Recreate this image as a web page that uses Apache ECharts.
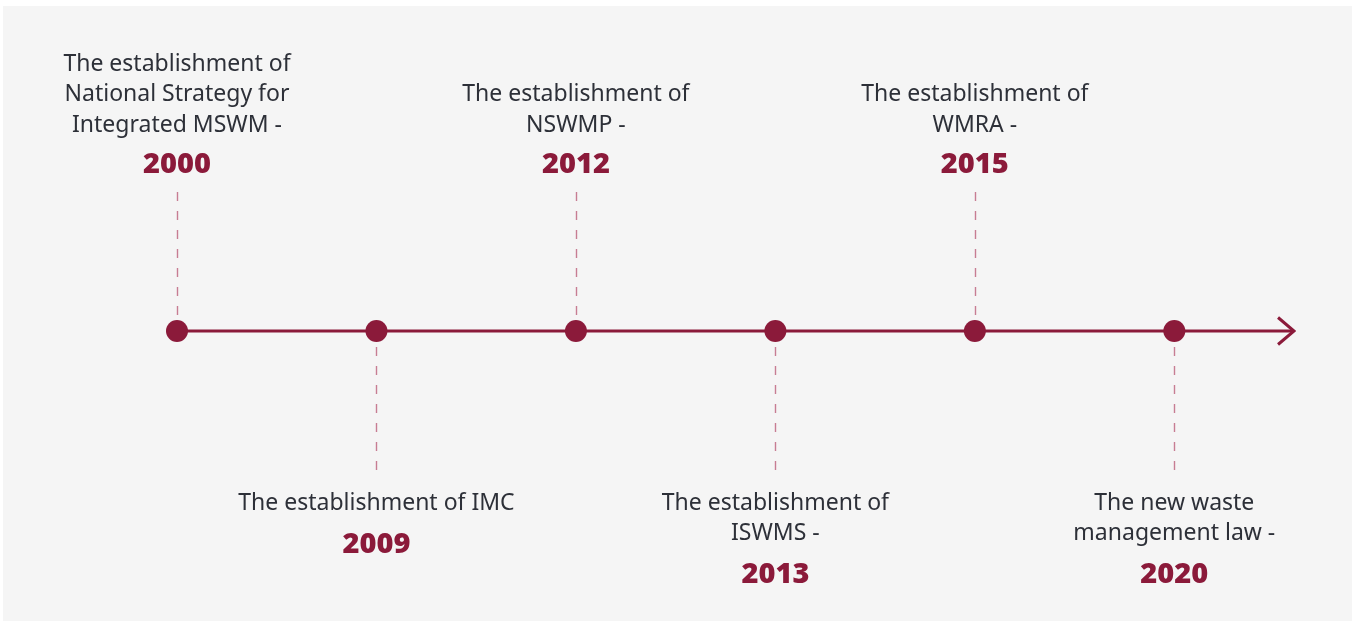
<!DOCTYPE html>
<html>
<head>
<meta charset="utf-8">
<script src="https://cdn.jsdelivr.net/npm/echarts@6/dist/echarts.min.js"></script>
<style>
html, body { margin: 0; padding: 0; background: #ffffff; }
#main { width: 1352px; height: 622px; }
</style>
</head>
<body>
<div id="main"></div>
<script>
// timeline milestones
var years = ['2000', '2009', '2012', '2013', '2015', '2020'];
var events = [
    ['The establishment of', 'National Strategy for', 'Integrated MSWM -'],
    ['The establishment of IMC'],
    ['The establishment of', 'NSWMP -'],
    ['The establishment of', 'ISWMS -'],
    ['The establishment of', 'WMRA -'],
    ['The new waste', 'management law -']
];
var sides = ['top', 'bottom', 'top', 'bottom', 'top', 'bottom'];

var red = '#8b1a3a';
var dashColor = '#c77d93';
var arrowEnd = 5.6;

var chart = echarts.init(document.getElementById('main'));

var dots = [], stems = [];
years.forEach(function (y, i) {
    var up = sides[i] === 'top';
    var lines = events[i].map(function (t) { return '{d|' + t + '}'; });
    lines.push('{y|' + y + '}');
    dots.push({
        value: [i, 0],
        label: {
            show: true,
            position: up ? 'top' : 'bottom',
            distance: up ? 132 : 146,
            formatter: lines.join('\n'),
            rich: {
                d: { fontSize: 23, lineHeight: 30.5, color: '#2d3038', fontFamily: 'Noto Sans' },
                y: { fontSize: 29, lineHeight: up ? 47.5 : 51.5, color: red, fontWeight: 900, fontFamily: 'Open Sans' }
            }
        }
    });
    stems.push({ coords: up ? [[i, 16], [i, 146]] : [[i, -16], [i, -144]] });
});

var option = {
    backgroundColor: '#ffffff',
    animation: false,
    graphic: [{
        type: 'rect',
        left: 3, top: 6,
        shape: { width: 1349, height: 615 },
        style: { fill: '#f5f5f5' },
        z: -10
    }],
    grid: { left: 177, right: 58, top: 0, bottom: 0 },
    xAxis: { type: 'value', min: 0, max: arrowEnd, show: false },
    yAxis: { type: 'value', min: -291, max: 331, show: false },
    series: [
        {
            type: 'lines',
            coordinateSystem: 'cartesian2d',
            z: 1,
            lineStyle: { color: dashColor, width: 1.4, type: [9, 10], opacity: 1 },
            data: stems
        },
        {
            type: 'lines',
            coordinateSystem: 'cartesian2d',
            polyline: true,
            z: 2,
            lineStyle: { color: red, width: 3, opacity: 1 },
            data: [
                { coords: [[0, 0], [arrowEnd, 0]] },
                { coords: [[arrowEnd - 0.08, 13.5], [arrowEnd, 0], [arrowEnd - 0.08, -13.5]] }
            ]
        },
        {
            type: 'scatter',
            z: 3,
            symbolSize: 22,
            itemStyle: { color: red, opacity: 1 },
            data: dots
        }
    ]
};
chart.setOption(option);
</script>
</body>
</html>
